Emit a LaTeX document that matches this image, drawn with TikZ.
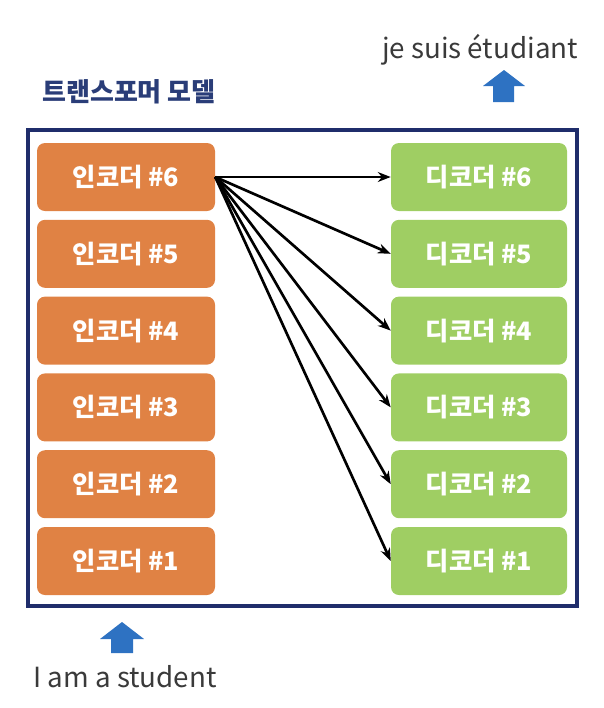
\documentclass[tikz,border=0pt]{standalone}
\usepackage{fontspec}
\setmainfont{Noto Sans CJK KR}
\usetikzlibrary{arrows.meta,positioning}
\definecolor{navy}{HTML}{1F2D6B}
\definecolor{title}{HTML}{2A3D78}
\definecolor{enc}{HTML}{E08244}
\definecolor{dec}{HTML}{9FCE63}
\definecolor{upblue}{HTML}{2E72C2}
\definecolor{txt}{HTML}{3A3A3A}
\tikzset{
  block/.style={rounded corners=6pt,minimum height=51pt,inner sep=0pt,text=white,font=\fontsize{19}{22}\selectfont\bfseries},
  encbox/.style={block,fill=enc,minimum width=133.5pt},
  decbox/.style={block,fill=dec,minimum width=132pt},
  label/.style={text=txt,font=\fontsize{20.8}{24}\selectfont,inner sep=0pt},
}
\begin{document}
\begin{tikzpicture}[x=0.75pt,y=-0.75pt,>={Stealth[length=3.4mm,width=2.6mm]}]
  \useasboundingbox (0,0) rectangle (604,708);
  % frame
  \draw[navy,line width=2.3pt] (28,130) rectangle (577,606);
  \node[text=title,font=\fontsize{19.5}{22}\selectfont\bfseries,anchor=west,inner sep=0pt] (model) at (42,92) {트랜스포머 모델};
  % encoders and decoders
  \foreach \i in {1,...,6}{
    \node[encbox] (e\i) at (126,637.8-76.8*\i) {인코더 \#\i};
    \node[decbox] (d\i) at (479,637.8-76.8*\i) {디코더 \#\i};}
  \foreach \i in {1,...,6}
    \draw[->,line width=2pt] (e6.east) -- (d\i.west);
  % input / output
  \node[label] (out) at (480,50) {je suis étudiant};
  \node[label] (in) at (125,677) {I am a student};
  \fill[upblue] (504,70) -- (525,86) -- (514,86) -- (514,102) -- (493,102) -- (493,86) -- (483,86) -- cycle;
  \fill[upblue] (122,622) -- (144,639) -- (133,639) -- (133,653) -- (111,653) -- (111,639) -- (100,639) -- cycle;
\end{tikzpicture}
\end{document}
